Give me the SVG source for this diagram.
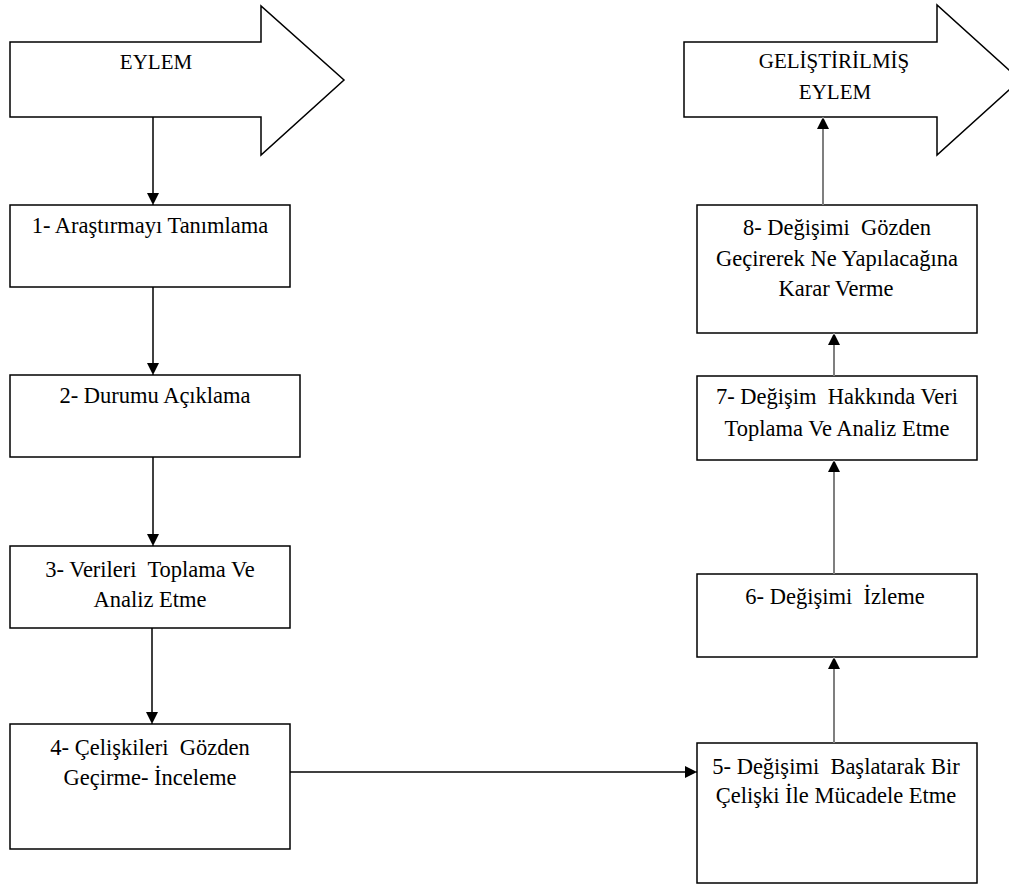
<svg xmlns="http://www.w3.org/2000/svg" width="1009" height="886" viewBox="0 0 1009 886">
  <defs>
    <marker id="ah" viewBox="0 0 10 12" refX="12" refY="6" markerWidth="10" markerHeight="12" markerUnits="userSpaceOnUse" orient="auto">
      <path d="M0,0 L12,6 L0,12 Z" fill="#000"/>
    </marker>
  </defs>
  <style>
    .shape { fill: #fff; stroke: #000; stroke-width: 1.5; }
    .box { fill: #fff; stroke: #000; stroke-width: 1.5; }
    .lbl { font-family: "Liberation Serif", "Times New Roman", serif; font-size: 22.5px; fill: #000; text-anchor: middle; white-space: pre; }
    .head { font-size: 21px; }
    .down { stroke: #000; stroke-width: 1.5; fill: none; }
    .up { stroke: #7f7f7f; stroke-width: 2; fill: none; }
  </style>
  <rect width="1009" height="886" fill="#fff"/>

  <!-- block arrows -->
  <g id="eylem">
    <polygon class="shape" points="10,42 261,42 261,6 344,80 261,155 261,117 10,117"/>
    <text class="lbl head" x="156" y="69">EYLEM</text>
  </g>
  <g id="gelistirilmis-eylem">
    <polygon class="shape" points="684,42 937,42 937,5 1020,80 937,155 937,117 684,117"/>
    <text class="lbl head" x="834" y="68">GELİŞTİRİLMİŞ</text>
    <text class="lbl head" x="835" y="99">EYLEM</text>
  </g>

  <!-- left column -->
  <g id="step1">
    <rect class="box" x="10" y="205" width="280" height="82"/>
    <text class="lbl" x="150" y="233">1- Araştırmayı Tanımlama</text>
  </g>
  <g id="step2">
    <rect class="box" x="10" y="375" width="290" height="82"/>
    <text class="lbl" x="155" y="403">2- Durumu Açıklama</text>
  </g>
  <g id="step3">
    <rect class="box" x="10" y="546" width="280" height="82"/>
    <text class="lbl" x="150" y="577">3- Verileri  Toplama Ve</text>
    <text class="lbl" x="150" y="607">Analiz Etme</text>
  </g>
  <g id="step4">
    <rect class="box" x="10" y="724" width="280" height="125"/>
    <text class="lbl" x="150" y="755">4- Çelişkileri  Gözden</text>
    <text class="lbl" x="150" y="785">Geçirme- İnceleme</text>
  </g>

  <!-- right column -->
  <g id="step5">
    <rect class="box" x="697" y="743" width="280" height="140"/>
    <text class="lbl" x="836" y="774">5- Değişimi  Başlatarak Bir</text>
    <text class="lbl" x="836" y="803">Çelişki İle Mücadele Etme</text>
  </g>
  <g id="step6">
    <rect class="box" x="697" y="574" width="280" height="83"/>
    <text class="lbl" x="835" y="604">6- Değişimi  İzleme</text>
  </g>
  <g id="step7">
    <rect class="box" x="697" y="376" width="280" height="84"/>
    <text class="lbl" x="837" y="404">7- Değişim  Hakkında Veri</text>
    <text class="lbl" x="837" y="436">Toplama Ve Analiz Etme</text>
  </g>
  <g id="step8">
    <rect class="box" x="697" y="205" width="280" height="128"/>
    <text class="lbl" x="837" y="235">8- Değişimi  Gözden</text>
    <text class="lbl" x="837" y="266">Geçirerek Ne Yapılacağına</text>
    <text class="lbl" x="836" y="296">Karar Verme</text>
  </g>

  <!-- connectors -->
  <g id="connectors">
    <line class="down" x1="153" y1="117" x2="153" y2="205" marker-end="url(#ah)"/>
    <line class="down" x1="153" y1="287" x2="153" y2="375" marker-end="url(#ah)"/>
    <line class="down" x1="153" y1="457" x2="153" y2="546" marker-end="url(#ah)"/>
    <line class="down" x1="152" y1="628" x2="152" y2="724" marker-end="url(#ah)"/>
    <line class="down" x1="290" y1="772" x2="697" y2="772" marker-end="url(#ah)"/>
    <line class="up" x1="834" y1="743" x2="834" y2="657" marker-end="url(#ah)"/>
    <line class="up" x1="834" y1="574" x2="834" y2="460" marker-end="url(#ah)"/>
    <line class="up" x1="834" y1="376" x2="834" y2="333" marker-end="url(#ah)"/>
    <line class="up" x1="823" y1="205" x2="823" y2="117" marker-end="url(#ah)"/>
  </g>
</svg>
